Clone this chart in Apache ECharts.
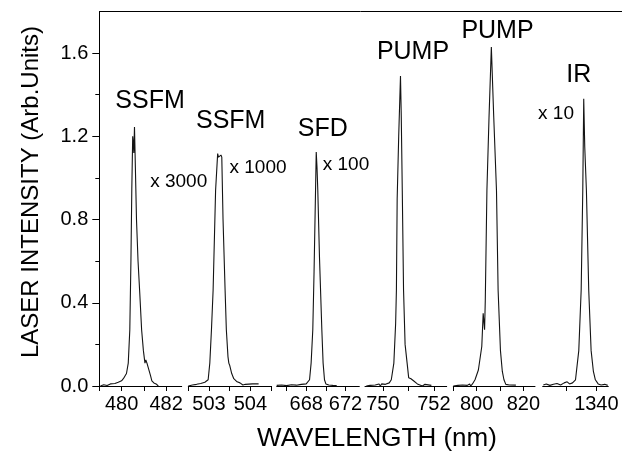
<!DOCTYPE html>
<html>
<head>
<meta charset="utf-8">
<script src="https://cdn.jsdelivr.net/npm/echarts@6/dist/echarts.min.js"></script>
<style>
  html, body { margin: 0; padding: 0; background: #fff; }
  #chart { width: 622px; height: 454px; }
</style>
</head>
<body>
<div id="chart"></div>
<script>
// Laser spectra: wavelength (nm) vs intensity (arb. units), one broken-axis panel per line.

// SSFM near 480.6 nm (scaled x 3000)
const ssfm480 = [
  [479.05,0.0],[479.2,0.006],[479.35,0.002],[479.5,0.01],[479.7,0.012],[479.85,0.018],
  [480.0,0.025],[480.08,0.035],[480.15,0.04],[480.22,0.06],[480.3,0.11],[480.37,0.27],
  [480.42,0.6],[480.46,0.95],[480.5,1.2],[480.53,1.16],[480.55,1.12],[480.58,1.245],
  [480.62,1.05],[480.67,0.8],[480.74,0.6],[480.82,0.44],[480.9,0.27],[480.98,0.17],
  [481.05,0.11],[481.09,0.125],[481.14,0.11],[481.22,0.08],[481.3,0.05],[481.36,0.025],
  [481.45,0.015],[481.55,0.01],[481.65,0.0]
];
// SSFM near 503.25 nm (scaled x 1000)
const ssfm503 = [
  [502.5,0.0],[502.6,0.005],[502.7,0.008],[502.8,0.012],[502.9,0.018],[502.98,0.03],
  [503.02,0.11],[503.06,0.27],[503.1,0.46],[503.16,0.94],[503.21,1.117],[503.23,1.1],
  [503.26,1.095],[503.29,1.11],[503.31,1.1],[503.34,0.8],[503.39,0.46],[503.42,0.27],
  [503.46,0.14],[503.48,0.11],[503.5,0.1],[503.55,0.06],[503.6,0.035],[503.68,0.02],
  [503.75,0.015],[503.82,0.005],[503.88,0.008],[503.92,0.01],[504.05,0.01],[504.2,0.01]
];
// SFD near 669 nm (scaled x 100)
const sfd669 = [
  [665.0,0.003],[665.5,0.005],[666.0,0.002],[666.5,0.006],[667.0,0.004],[667.5,0.008],
  [668.0,0.01],[668.2,0.015],[668.34,0.03],[668.5,0.11],[668.67,0.27],[668.8,0.55],
  [668.95,0.94],[669.02,1.125],[669.1,1.05],[669.18,0.94],[669.35,0.62],[669.59,0.27],
  [669.72,0.11],[669.86,0.03],[670.0,0.01],[670.3,0.005],[670.7,0.003],[671.1,0.002]
];
// Pump near 750.7 nm
const pump750 = [
  [749.35,0.0],[749.5,0.003],[749.7,0.005],[749.85,0.01],[749.9,0.0],[749.95,0.01],
  [750.1,0.008],[750.25,0.015],[750.33,0.03],[750.43,0.11],[750.5,0.3],[750.53,0.46],
  [750.56,0.9],[750.62,1.2],[750.69,1.49],[750.72,1.3],[750.76,0.94],[750.81,0.46],
  [750.87,0.2],[750.95,0.11],[751.01,0.04],[751.1,0.035],[751.2,0.025],[751.35,0.01],
  [751.45,0.005],[751.55,0.0],[751.65,0.008],[751.72,0.0],[751.9,0.003]
];
// Pump near 806 nm
const pump806 = [
  [790.0,0.0],[792.0,0.003],[794.0,0.005],[796.0,0.003],[797.0,0.01],[797.5,0.0],
  [798.2,0.01],[799.3,0.03],[800.74,0.077],[802.2,0.19],[802.8,0.35],[803.4,0.27],
  [803.7,0.41],[804.4,0.94],[805.3,1.29],[806.3,1.629],[807.3,1.3],[808.5,0.94],
  [809.2,0.46],[810.2,0.17],[811.0,0.07],[811.7,0.03],[812.5,0.008],[814.0,0.005],
  [816.8,0.004]
];
// IR near 1338 nm (scaled x 10)
const ir1338 = [
  [1331.1,0.005],[1331.6,0.01],[1332.2,0.003],[1332.8,0.008],[1333.4,0.012],[1334.0,0.005],
  [1334.6,0.015],[1335.1,0.02],[1335.5,0.01],[1336.0,0.015],[1336.5,0.03],[1337.05,0.17],
  [1337.45,0.46],[1337.72,0.94],[1337.88,1.381],[1338.05,1.15],[1338.33,0.94],[1338.72,0.46],
  [1339.12,0.17],[1339.5,0.07],[1339.83,0.03],[1340.3,0.01],[1340.8,0.005],[1341.4,0.008],
  [1341.9,0.003]
];

// Per-panel wavelength ranges, tick positions and labelled ticks
const ranges = [[479, 482.7], [502.5, 504.5], [665, 673.4], [749.3, 752.5], [790, 825], [1331, 1342]];
const tickValues = [[479, 480, 481, 482], [502.5, 503, 503.5, 504, 504.5], [666, 668, 670, 672],
                    [750, 751, 752], [790, 800, 810, 820], [1335, 1340]];
const labelValues = [[480, 482], [503, 504], [668, 672], [750, 752], [800, 820], [1340]];

// Intensity axis
const yMajorTicks = [0, 0.4, 0.8, 1.2, 1.6];
const yMinorTicks = [0.2, 0.6, 1.0, 1.4];

// Peak annotations, one per panel
const peakNames = ['SSFM', 'SSFM', 'SFD', 'PUMP', 'PUMP', 'IR'];
const scaleNotes = ['x 3000', 'x 1000', 'x 100', '', '', 'x 10'];

const seriesData = [ssfm480, ssfm503, sfd669, pump750, pump806, ir1338];

const FONT = '"Liberation Sans", Arial, Helvetica, sans-serif';
const INK = '#000';
const LINE = '#141414';

// Horizontal placement of each panel (pixel left / right edges)
const panelEdges = [[99.3, 181.7], [188.3, 271], [276.7, 359.3], [365, 446.7], [453.3, 535], [542.7, 608.3]];
const plotTop = 11.5, plotBottom = 386;

const grids = [], xAxes = [], yAxes = [], series = [];
seriesData.forEach((data, i) => {
  const [l, r] = panelEdges[i];
  grids.push({ left: l, width: r - l, top: plotTop, height: plotBottom - plotTop, containLabel: false });
  xAxes.push({
    gridIndex: i, type: 'value', min: ranges[i][0], max: ranges[i][1],
    axisLine: { show: true, onZero: false, lineStyle: { color: INK, width: 1 } },
    axisTick: { show: true, customValues: tickValues[i], length: 5, lineStyle: { color: INK, width: 1 } },
    axisLabel: { customValues: labelValues[i], formatter: v => String(v), fontSize: 20, color: INK, fontFamily: FONT, margin: 8 },
    splitLine: { show: false }
  });
  yAxes.push({
    gridIndex: i, type: 'value', min: 0, max: 1.8, show: i === 0, position: 'left',
    axisLine: { show: true, lineStyle: { color: INK, width: 1 } },
    axisTick: { show: true, customValues: yMajorTicks, length: 7, lineStyle: { color: INK, width: 1 } },
    axisLabel: { customValues: yMajorTicks, formatter: v => v.toFixed(1), fontSize: 20, color: INK, fontFamily: FONT, margin: 11 },
    splitLine: { show: false }
  });
  series.push({
    type: 'line', xAxisIndex: i, yAxisIndex: i, data: data, showSymbol: false,
    lineStyle: { color: LINE, width: 1.1 }, silent: true, clip: false
  });
});
// Minor ticks on the intensity axis
yAxes.push({
  gridIndex: 0, type: 'value', min: 0, max: 1.8, position: 'left',
  axisLine: { show: false }, axisLabel: { show: false }, splitLine: { show: false },
  axisTick: { show: true, customValues: yMinorTicks, length: 4, lineStyle: { color: INK, width: 1 } }
});

// Annotation text placement
const namePos = [[150, 101], [230.7, 121], [322.8, 129], [413, 52.5], [497.5, 31], [578.7, 75]];
const notePos = [[178.7, 182], [258, 168], [346, 165], null, null, [556, 114]];

const graphics = [
  { type: 'line', shape: { x1: 99.3, y1: plotTop, x2: 622, y2: plotTop }, style: { stroke: INK, lineWidth: 1 }, silent: true },
  { type: 'text', x: 377, y: 439, style: { text: 'WAVELENGTH (nm)', fontSize: 26, fontFamily: FONT, fill: INK, align: 'center', verticalAlign: 'middle' } },
  { type: 'text', x: 31, y: 192, rotation: Math.PI / 2, style: { text: 'LASER INTENSITY (Arb.Units)', fontSize: 24, fontFamily: FONT, fill: INK, align: 'center', verticalAlign: 'middle' } }
];
peakNames.forEach((t, i) => {
  graphics.push({ type: 'text', x: namePos[i][0], y: namePos[i][1],
    style: { text: t, fontSize: 25, fontFamily: FONT, fill: INK, align: 'center', verticalAlign: 'middle' } });
  if (scaleNotes[i]) {
    graphics.push({ type: 'text', x: notePos[i][0], y: notePos[i][1],
      style: { text: scaleNotes[i], fontSize: 19, fontFamily: FONT, fill: INK, align: 'center', verticalAlign: 'middle' } });
  }
});

const chart = echarts.init(document.getElementById('chart'), null, { renderer: 'canvas' });
chart.setOption({
  animation: false,
  backgroundColor: '#fff',
  grid: grids,
  xAxis: xAxes,
  yAxis: yAxes,
  series: series,
  graphic: graphics
});
</script>
</body>
</html>
